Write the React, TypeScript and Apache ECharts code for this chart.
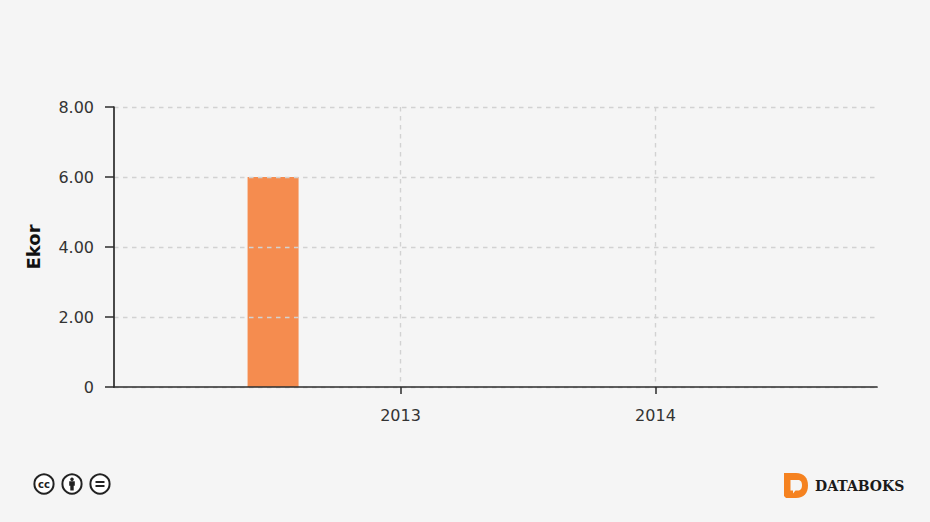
import React, { useEffect, useRef } from "react";
import * as echarts from "echarts";

const years = [2012.5, 2013.5, 2014.5];
const ekor = [6, 0, 0];
const yearTicks = [2013, 2014];
const axisName = "Ekor";
const brand = "DATABOKS";

const FONT = "'DejaVu Sans', Verdana, sans-serif";
const INK = "#2b2b2b";
const LABEL = "#333333";
const GRID_LINE = { color: "#d2d2d2", width: 1.4, type: [4.5, 4.5] };

echarts.graphic.registerShape(
  "databoksD",
  echarts.graphic.extendPath(
    "M0 0 L12 0 C20 0 24 5 24 12.5 C24 20 20 25 12 25 L2 25 L0 23 Z",
    {}
  )
);
echarts.graphic.registerShape(
  "databoksBubble",
  echarts.graphic.extendPath(
    "M6.5 7 L14 7 C17 7 18 9.5 18 12 C18 15 17 17.5 14 17.5 L11.5 17.5 L9 20.5 L9 17.5 L6.5 17.5 Z",
    {}
  )
);

function ccBadge(cx: number, children: any[]) {
  return {
    type: "group",
    x: cx,
    y: 484,
    children: [
      {
        type: "circle",
        shape: { cx: 0, cy: 0, r: 9.6 },
        style: { fill: "#ffffff", stroke: "#222222", lineWidth: 2 },
      },
      ...children,
    ],
  };
}

export default function App() {
  const ref = useRef<HTMLDivElement>(null);
  useEffect(() => {
    const chart = echarts.init(ref.current!, null, { renderer: "svg" });
    chart.setOption({
      animation: false,
      backgroundColor: "#f5f5f5",
      textStyle: { fontFamily: FONT },
      grid: { left: 114, right: 53, top: 107, bottom: 135 },
      xAxis: {
        type: "value",
        min: 2011.876,
        max: 2014.869,
        z: 5,
        axisLine: { onZero: false, lineStyle: { color: INK, width: 1.7 } },
        axisTick: { customValues: yearTicks, length: 7, lineStyle: { color: INK, width: 1.5 } },
        axisLabel: {
          customValues: yearTicks,
          formatter: (v: number) => String(Math.round(v)),
          color: LABEL,
          fontSize: 16,
          margin: 20,
          fontFamily: FONT,
        },
        splitLine: { show: true, lineStyle: GRID_LINE },
      },
      yAxis: {
        type: "value",
        min: 0,
        max: 8,
        interval: 2,
        z: 5,
        name: axisName,
        nameLocation: "middle",
        nameGap: 72,
        nameRotate: 90,
        nameTextStyle: { color: "#111111", fontSize: 18, fontWeight: "bold", fontFamily: FONT },
        axisLine: { show: true, lineStyle: { color: INK, width: 1.7 } },
        axisTick: { show: true, length: 9, lineStyle: { color: INK, width: 1.5 } },
        axisLabel: {
          color: LABEL,
          fontSize: 16,
          margin: 20,
          padding: [0, 0, 3, 0],
          fontFamily: FONT,
          formatter: (v: number) => (v === 0 ? "0" : v.toFixed(2)),
        },
        splitLine: { show: true, lineStyle: GRID_LINE },
      },
      series: [
        {
          type: "bar",
          barWidth: 51,
          data: years.map((y, i) => [y, ekor[i]]),
          itemStyle: { color: "#f58c4f" },
          z: 1,
        },
      ],
      graphic: [
        ccBadge(44, [
          {
            type: "text",
            x: 0,
            y: 0,
            style: {
              text: "cc",
              fill: "#222222",
              font: "bold 10px 'DejaVu Sans', sans-serif",
              align: "center",
              verticalAlign: "middle",
            },
          },
        ]),
        ccBadge(72, [
          { type: "circle", shape: { cx: 0, cy: -4.8, r: 1.8 }, style: { fill: "#222222" } },
          {
            type: "polygon",
            shape: { points: [[-2.8, -2.8], [2.8, -2.8], [2.8, 1.8], [1.7, 1.8], [1.7, 6.5], [-1.7, 6.5], [-1.7, 1.8], [-2.8, 1.8]] },
            style: { fill: "#222222" },
          },
        ]),
        ccBadge(100, [
          { type: "rect", shape: { x: -4.5, y: -3, width: 9, height: 2 }, style: { fill: "#222222" } },
          { type: "rect", shape: { x: -4.5, y: 1, width: 9, height: 2 }, style: { fill: "#222222" } },
        ]),
        { type: "databoksD", x: 784, y: 473, style: { fill: "#f58220" } },
        { type: "databoksBubble", x: 784, y: 473, style: { fill: "#f5f5f5" } },
        {
          type: "text",
          x: 815,
          y: 486,
          style: {
            text: brand,
            fill: "#1a1a1a",
            font: "bold 14px 'DejaVu Serif', serif",
            verticalAlign: "middle",
          },
        },
      ],
    });
    return () => chart.dispose();
  }, []);
  return (
    <div
      ref={ref}
      style={{ position: "fixed", left: 0, top: 0, width: 930, height: 522 }}
    />
  );
}
